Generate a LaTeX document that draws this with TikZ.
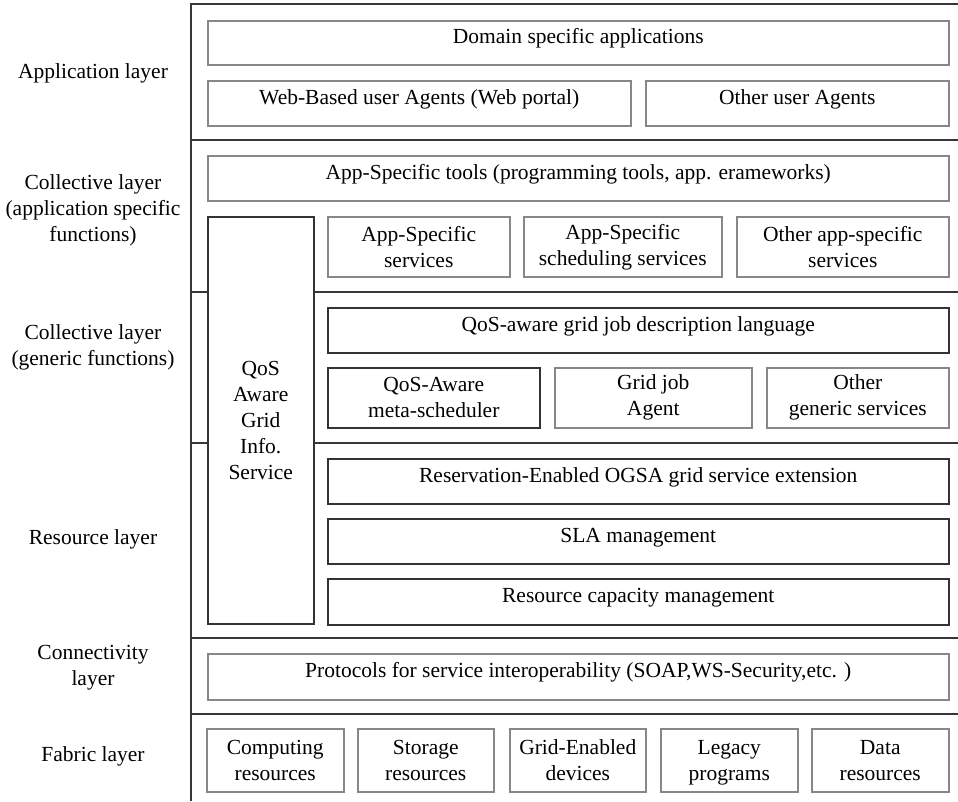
\documentclass[tikz,border=0pt]{standalone}
\usepackage{fontspec}
\setmainfont{Liberation Serif}

\begin{document}
\begin{tikzpicture}[x=1pt, y=-1pt,
        font=\fontsize{21.5}{26}\selectfont,
        rahmen/.style={draw=black!78, line width=1.8pt},
        kasten/.style={draw=black!47, line width=1.5pt, inner sep=0pt,
            anchor=north west, align=center},
        dunkel/.style={kasten, draw=black!80},
        zeile/.style={text height=14.5pt, text depth=12.5pt},
        schicht/.style={align=center}
        ]
            \useasboundingbox (0,0) rectangle (958,801);

            % Schichten (Beschriftung links)
            \node[schicht] (lapp)  at (93,73)  {Application layer};
            \node[schicht] (lcoll) at (93,210) {Collective layer\\(application specific\\functions)};
            \node[schicht] (lgen)  at (93,347) {Collective layer\\(generic functions)};
            \node[schicht] (lres)  at (93,539) {Resource layer};
            \node[schicht] (lcon)  at (93,668) {Connectivity\\layer};
            \node[schicht] (lfab)  at (93,756) {Fabric layer};

            % Application layer
            \node[kasten, zeile, minimum width=741pt, minimum height=44pt] (domain) at (207,20)
                {Domain specific applications};
            \node[kasten, zeile, minimum width=423pt, minimum height=45pt] (webagents) at (207,80)
                {Web-Based user Agents (Web portal)};
            \node[kasten, zeile, minimum width=303pt, minimum height=45pt] (otheragents) at (645,80)
                {Other user Agents};

            % Collective layer, anwendungsspezifisch
            \node[kasten, zeile, minimum width=741pt, minimum height=45pt] (apptools) at (207,155)
                {App-Specific tools (programming tools, app. erameworks)};
            \node[dunkel, minimum width=106pt, minimum height=407pt] (qosinfo) at (207,216)
                {QoS\\Aware\\Grid\\Info.\\Service};
            \node[kasten, minimum width=182pt, minimum height=60pt] (appservices) at (327,216)
                {App-Specific\\services};
            \node[kasten, minimum width=198pt, minimum height=60pt] (appsched) at (523,216)
                {App-Specific\\scheduling services};
            \node[kasten, minimum width=212pt, minimum height=60pt] (otherapp) at (736,216)
                {Other app-specific\\services};

            % Collective layer, generisch
            \node[dunkel, zeile, minimum width=621pt, minimum height=45pt] (jobdesc) at (327,307)
                {QoS-aware grid job description language};
            \node[dunkel, minimum width=212pt, minimum height=60pt] (metasched) at (327,367)
                {QoS-Aware\\meta-scheduler};
            \node[kasten, minimum width=197pt, minimum height=60pt] (jobagent) at (554,367)
                {Grid job\\Agent};
            \node[kasten, minimum width=182pt, minimum height=60pt] (othergeneric) at (766,367)
                {Other\\generic services};

            % Resource layer
            \node[dunkel, zeile, minimum width=621pt, minimum height=45pt] (reservation) at (327,458)
                {Reservation-Enabled OGSA grid service extension};
            \node[dunkel, zeile, minimum width=621pt, minimum height=45pt] (sla) at (327,518)
                {SLA management};
            \node[dunkel, zeile, minimum width=621pt, minimum height=46pt] (capacity) at (327,578)
                {Resource capacity management};

            % Connectivity layer
            \node[kasten, zeile, minimum width=741pt, minimum height=46pt] (protocols) at (207,653)
                {Protocols for service interoperability (SOAP,WS-Security,etc. )};

            % Fabric layer
            \node[kasten, minimum width=137pt, minimum height=63pt] (computing) at (206,728)
                {Computing\\resources};
            \node[kasten, minimum width=136pt, minimum height=63pt] (storage) at (357,728)
                {Storage\\resources};
            \node[kasten, minimum width=136pt, minimum height=63pt] (griddev) at (509,728)
                {Grid-Enabled\\devices};
            \node[kasten, minimum width=137pt, minimum height=63pt] (legacy) at (660,728)
                {\strut Legacy\\programs};
            \node[kasten, minimum width=137pt, minimum height=63pt] (data) at (811,728)
                {Data\\resources};

            % Rahmen, Trennlinien
            \draw[rahmen] (958,4) -- (191,4) -- (191,801);
            \draw[rahmen] (191,140) -- (958,140);
            \draw[rahmen] (191,292) -- (qosinfo.west |- 0,292)
                          (qosinfo.east |- 0,292) -- (958,292);
            \draw[rahmen] (191,443) -- (qosinfo.west |- 0,443)
                          (qosinfo.east |- 0,443) -- (958,443);
            \draw[rahmen] (191,638) -- (958,638);
            \draw[rahmen] (191,714) -- (958,714);

        \end{tikzpicture}
\end{document}
